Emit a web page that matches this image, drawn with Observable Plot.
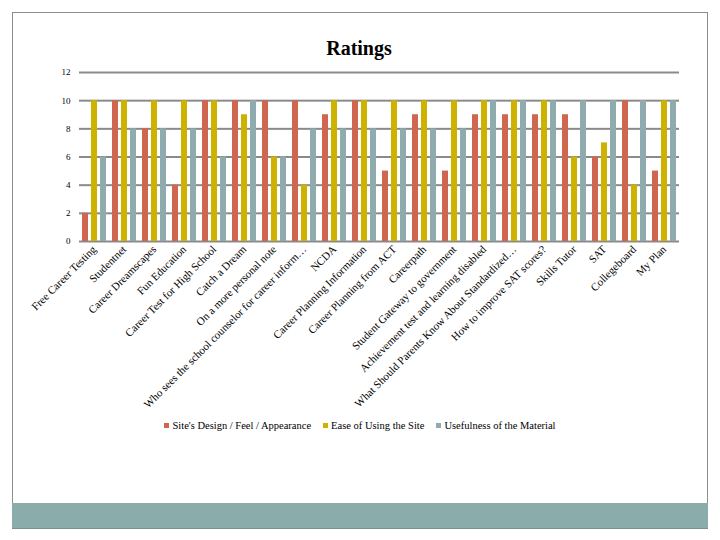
<!DOCTYPE html>
<html>
<head>
<meta charset="utf-8">
<script src="https://cdn.jsdelivr.net/npm/d3@7"></script>
<script src="https://cdn.jsdelivr.net/npm/@observablehq/plot@0.6"></script>
<style>
  html, body { margin: 0; padding: 0; background: #fff; }
  #page { position: relative; width: 720px; height: 540px; overflow: hidden; font-family: "Liberation Serif", serif; }
  #frame { position: absolute; left: 12px; top: 12px; width: 694px; height: 515px; border: 1px solid #8c8c8c; }
  #band { position: absolute; left: 12px; top: 503px; width: 696px; height: 25px; background: #8aacab; border-bottom: 1px solid #7a9190; }
  #title { position: absolute; left: 0; width: 718px; top: 37px; text-align: center; font-weight: bold; font-size: 20px; color: #000; }
  #chart { position: absolute; left: 0; top: 60px; }
  #legend { position: absolute; left: 0; width: 720px; top: 420px; text-align: center; font-size: 10.5px; color: #000; }
  #legend span.item { margin: 0 6px; white-space: nowrap; }
  #legend span.sw { display: inline-block; width: 5px; height: 5px; margin-right: 3px; vertical-align: 1px; }
</style>
</head>
<body>
<div id="page">
  <div id="frame"></div>
  <div id="band"></div>
  <div id="title">Ratings</div>
  <div id="chart"></div>
  <div id="legend"></div>
</div>
<script>
const categories = [
  "Free Career Testing",
  "Studentnet",
  "Career Dreamscapes",
  "Fun Education",
  "Career Test for High School",
  "Catch a Dream",
  "On a more personal note",
  "Who sees the school counselor for career inform…",
  "NCDA",
  "Career Planning Information",
  "Career Planning from ACT",
  "Careerpath",
  "Student Gateway to government",
  "Achievement test and learning disabled",
  "What Should Parents Know About Standardized…",
  "How to improve SAT scores?",
  "Skills Tutor",
  "SAT",
  "Collegeboard",
  "My Plan"
];
const seriesNames = [
  "Site's Design / Feel / Appearance",
  "Ease of Using the Site",
  "Usefulness of the Material"
];
const designValues     = [2, 10, 8, 4, 10, 10, 10, 10, 9, 10, 5, 9, 5, 9, 9, 9, 9, 6, 10, 5];
const easeValues       = [10, 10, 10, 10, 10, 9, 6, 4, 10, 10, 10, 10, 10, 10, 10, 10, 6, 7, 4, 10];
const usefulnessValues = [6, 8, 8, 8, 6, 10, 6, 8, 8, 8, 8, 8, 8, 10, 10, 10, 10, 10, 10, 10];
const seriesColors = ["#cf6650", "#cdb300", "#8fabae"];
const yTicks = [0, 2, 4, 6, 8, 10, 12];

const valueLists = [designValues, easeValues, usefulnessValues];
const rows = [];
categories.forEach((c, i) => {
  seriesNames.forEach((s, j) => rows.push({category: c, series: s, value: valueLists[j][i]}));
});

const chart = Plot.plot({
  width: 720,
  height: 360,
  marginLeft: 77,
  marginRight: 39,
  marginTop: 12,
  marginBottom: 179,
  style: {fontFamily: "Liberation Serif, serif", fontSize: "10px", color: "#000", background: "transparent"},
  fx: {domain: categories, padding: 0, label: null, axis: null},
  x: {domain: seriesNames, padding: 1/3, axis: null},
  y: {domain: [0, 12], label: null, axis: null},
  color: {domain: seriesNames, range: seriesColors},
  marks: [
    Plot.ruleY(yTicks, {stroke: "#8a8a8a", strokeWidth: 2}),
    Plot.barY(rows, {fx: "category", x: "series", y: "value", fill: "series"}),
    Plot.axisFx({anchor: "bottom", tickRotate: -45, tickSize: 0, tickPadding: 6, fontSize: 11, label: null}),
    Plot.axisY({anchor: "left", ticks: yTicks, tickSize: 0, tickPadding: 9, fontSize: 9, label: null, tickFormat: d3.format("d")})
  ]
});
document.getElementById("chart").appendChild(chart);

const legend = document.getElementById("legend");
seriesNames.forEach((s, j) => {
  const item = document.createElement("span");
  item.className = "item";
  const sw = document.createElement("span");
  sw.className = "sw";
  sw.style.background = seriesColors[j];
  item.appendChild(sw);
  item.appendChild(document.createTextNode(s));
  legend.appendChild(item);
});
</script>
</body>
</html>
